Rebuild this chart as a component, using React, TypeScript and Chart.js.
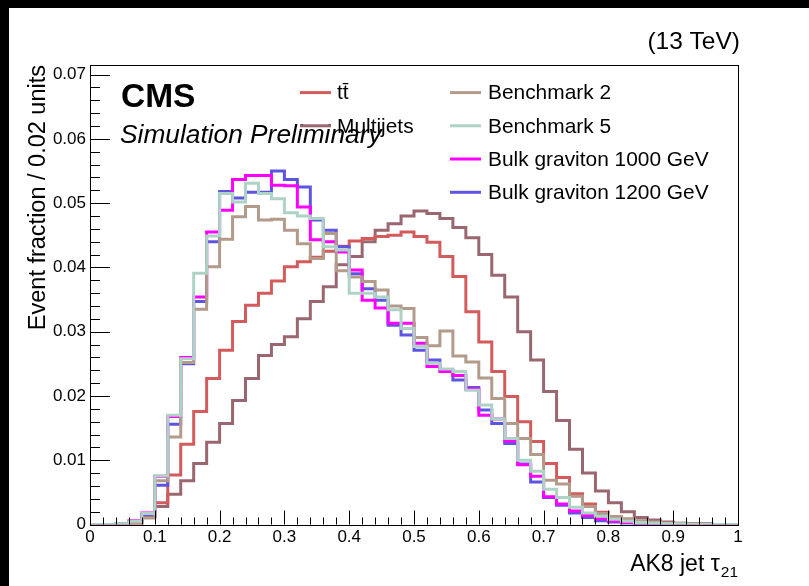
import React, { useEffect, useRef } from "react";
import { Chart, registerables } from "chart.js";

Chart.register(...registerables);

// ---- data (bin contents, 50 bins of width 0.02 from 0 to 1) ----
const binLow = 0;
const binWidth = 0.02;

const ttbar = [
  0, 0, 0, 0.0002, 0.0012, 0.0034, 0.0077, 0.0125, 0.0176, 0.0227,
  0.0271, 0.0316, 0.0341, 0.036, 0.0379, 0.0401, 0.0409, 0.0416, 0.0425, 0.0433,
  0.0441, 0.0445, 0.0448, 0.045, 0.0455, 0.0448, 0.0439, 0.0417, 0.0386, 0.0331,
  0.0284, 0.0238, 0.0199, 0.016, 0.0129, 0.0095, 0.0073, 0.0048, 0.0032, 0.0019,
  0.0012, 0.0008, 0.0005, 0.0003, 0.0002, 0.0001, 0.0001, 0, 0, 0,
];
const multijets = [
  0, 0, 0, 0.0002, 0.0012, 0.0028, 0.0047, 0.0068, 0.0095, 0.0128,
  0.0157, 0.0193, 0.0227, 0.0263, 0.028, 0.0292, 0.032, 0.0347, 0.037, 0.0404,
  0.0417, 0.044, 0.0458, 0.0468, 0.048, 0.0488, 0.0484, 0.0476, 0.0462, 0.0446,
  0.042, 0.0388, 0.0354, 0.03, 0.0256, 0.0207, 0.0162, 0.0117, 0.008, 0.0052,
  0.0034, 0.002, 0.0011, 0.0007, 0.0004, 0.0002, 0.0001, 0.0001, 0, 0,
];
const benchmark2 = [
  0, 0, 0.0001, 0.0003, 0.001, 0.0068, 0.0136, 0.0252, 0.0335, 0.0401,
  0.0444, 0.0479, 0.0495, 0.0474, 0.0475, 0.0458, 0.0437, 0.0414, 0.0453, 0.0395,
  0.0385, 0.0378, 0.0365, 0.034, 0.0336, 0.0291, 0.0278, 0.0301, 0.0262, 0.0253,
  0.0228, 0.0196, 0.0157, 0.0134, 0.0109, 0.0069, 0.0063, 0.0044, 0.0028, 0.0017,
  0.0012, 0.0009, 0.0006, 0.0004, 0.0002, 0.0002, 0.0001, 0, 0, 0,
];
const benchmark5 = [
  0, 0, 0.0001, 0.0005, 0.0017, 0.0076, 0.017, 0.0258, 0.0391, 0.0449,
  0.0515, 0.0502, 0.0531, 0.0515, 0.0507, 0.0485, 0.048, 0.0476, 0.0432, 0.0427,
  0.036, 0.036, 0.0354, 0.0334, 0.0305, 0.0277, 0.0251, 0.0242, 0.0238, 0.0209,
  0.0186, 0.0164, 0.0134, 0.01, 0.0083, 0.0055, 0.0042, 0.0027, 0.0018, 0.0013,
  0.0008, 0.0005, 0.0003, 0.0002, 0.0001, 0.0001, 0, 0, 0, 0,
];
const bulk1000 = [
  0, 0, 0.0001, 0.0006, 0.0018, 0.0075, 0.0168, 0.026, 0.0354, 0.0455,
  0.0489, 0.0537, 0.0543, 0.0543, 0.0528, 0.0527, 0.0494, 0.0443, 0.044, 0.0424,
  0.0396, 0.0349, 0.0337, 0.0313, 0.0313, 0.0282, 0.0246, 0.0238, 0.0232, 0.0211,
  0.017, 0.0164, 0.013, 0.0093, 0.0075, 0.0043, 0.0032, 0.0021, 0.0014, 0.0009,
  0.0005, 0.0003, 0.0002, 0.0001, 0, 0, 0, 0, 0, 0,
];
const bulk1200 = [
  0, 0, 0.0001, 0.0004, 0.0015, 0.0061, 0.0156, 0.025, 0.0347, 0.044,
  0.0518, 0.0508, 0.0517, 0.0517, 0.055, 0.0537, 0.0525, 0.0474, 0.0458, 0.0432,
  0.039, 0.0367, 0.0349, 0.031, 0.0295, 0.0271, 0.0256, 0.024, 0.0225, 0.0213,
  0.0178, 0.0157, 0.0126, 0.0094, 0.0066, 0.0042, 0.003, 0.0018, 0.0011, 0.0006,
  0.0004, 0.0002, 0.0001, 0, 0, 0, 0, 0, 0, 0,
];

const xTickValues = [0, 0.1, 0.2, 0.3, 0.4, 0.5, 0.6, 0.7, 0.8, 0.9, 1];
const yTickValues = [0, 0.01, 0.02, 0.03, 0.04, 0.05, 0.06, 0.07];
const xRange = [0, 1];
const yRange = [0, 0.0715];

const seriesNames = [
  "t\u0074\u0304",
  "Multijets",
  "Benchmark 2",
  "Benchmark 5",
  "Bulk graviton 1000 GeV",
  "Bulk graviton 1200 GeV",
];
const seriesValues = [ttbar, multijets, benchmark2, benchmark5, bulk1000, bulk1200];
const seriesColors = ["#d45b5b", "#9a6670", "#b29b8b", "#aed2c6", "#ff00ff", "#5d55e2"];
const seriesOrder = [4, 5, 1, 0, 2, 3];

const FONT = "'Liberation Sans', Arial, Helvetica, sans-serif";

function toSteps(values: number[]) {
  const pts = values.map((v, i) => ({ x: binLow + i * binWidth, y: v }));
  pts.push({ x: binLow + values.length * binWidth, y: values[values.length - 1] });
  return pts;
}

const decorPlugin = {
  id: "rootDecor",
  afterDatasetsDraw(chart: any) {
    const { ctx, chartArea: a, scales } = chart;
    const xs = scales.x;
    const ys = scales.y;
    ctx.save();
    ctx.strokeStyle = "#000";
    ctx.lineWidth = 1;
    ctx.strokeRect(Math.round(a.left) + 0.5, Math.round(a.top) + 0.5, Math.round(a.right - a.left), Math.round(a.bottom - a.top));
    ctx.beginPath();
    for (let k = 0; k <= 35; k++) {
      const v = k * 0.002;
      if (v > yRange[1]) break;
      const py = Math.round(ys.getPixelForValue(v)) + 0.5;
      const len = k % 5 === 0 ? 20 : 10;
      ctx.moveTo(a.left, py);
      ctx.lineTo(a.left + len, py);
    }
    for (let k = 0; k <= 50; k++) {
      const v = k * 0.02;
      const px = Math.round(xs.getPixelForValue(v)) + 0.5;
      const len = k % 5 === 0 ? 14 : 7;
      ctx.moveTo(px, a.bottom);
      ctx.lineTo(px, a.bottom - len);
    }
    ctx.stroke();
    ctx.restore();
  },
  afterDraw(chart: any) {
    const { ctx, chartArea: a } = chart;
    ctx.save();
    ctx.fillStyle = "#000";
    ctx.textBaseline = "alphabetic";

    ctx.font = `24.5px ${FONT}`;
    ctx.textAlign = "right";
    ctx.fillText("(13 TeV)", a.right + 2, 41);

    ctx.textAlign = "left";
    ctx.font = `bold 33.5px ${FONT}`;
    ctx.fillText("CMS", 112, 99);
    ctx.font = `italic 26.3px ${FONT}`;
    ctx.fillText("Simulation Preliminary", 111, 135);

    const cols = [
      { lx: 291, tx: 328, items: [0, 1] },
      { lx: 441, tx: 479, items: [2, 3, 4, 5] },
    ];
    const rowY = [84.6, 117.8, 151, 184.3];
    ctx.font = `20.9px ${FONT}`;
    ctx.textBaseline = "middle";
    cols.forEach((c) => {
      c.items.forEach((si, r) => {
        const y = rowY[r];
        ctx.strokeStyle = seriesColors[si];
        ctx.lineWidth = 3;
        ctx.beginPath();
        ctx.moveTo(c.lx, y);
        ctx.lineTo(c.lx + 31, y);
        ctx.stroke();
        ctx.fillStyle = "#000";
        ctx.fillText(seriesNames[si], c.tx, y + 1);
      });
    });

    ctx.textBaseline = "alphabetic";
    ctx.save();
    ctx.translate(36, a.top);
    ctx.rotate(-Math.PI / 2);
    ctx.textAlign = "right";
    ctx.font = `23.5px ${FONT}`;
    ctx.fillText("Event fraction / 0.02 units", 0, 0);
    ctx.restore();

    ctx.font = `23px ${FONT}`;
    const main = "AK8 jet \u03C4";
    const wMain = ctx.measureText(main).width;
    ctx.font = `15.5px ${FONT}`;
    const sub = "21";
    const wSub = ctx.measureText(sub).width;
    const xEnd = a.right;
    const base = 563;
    ctx.textAlign = "left";
    ctx.font = `23px ${FONT}`;
    ctx.fillText(main, xEnd - wSub - wMain - 1, base);
    ctx.font = `15.5px ${FONT}`;
    ctx.fillText(sub, xEnd - wSub, base + 6);
    ctx.restore();
  },
};

export default function App() {
  const canvasRef = useRef<HTMLCanvasElement | null>(null);

  useEffect(() => {
    const canvas = canvasRef.current;
    if (!canvas) return;
    const W = 800;
    const H = 578;
    const chart = new Chart(canvas, {
      type: "line",
      data: {
        datasets: seriesValues.map((vals, i) => ({
          label: seriesNames[i],
          data: toSteps(vals),
          borderColor: seriesColors[i],
          backgroundColor: seriesColors[i],
          borderWidth: 3,
          pointRadius: 0,
          pointHoverRadius: 0,
          stepped: "before" as const,
          fill: false,
          tension: 0,
          order: seriesOrder[i],
          borderJoinStyle: "miter" as const,
          borderCapStyle: "butt" as const,
        })),
      },
      options: {
        animation: false,
        responsive: false,
        devicePixelRatio: 1,
        events: [],
        layout: { padding: { left: 0, right: W - 729, top: 57, bottom: 0 } },
        plugins: {
          legend: { display: false },
          tooltip: { enabled: false },
          title: { display: false },
        },
        scales: {
          x: {
            type: "linear",
            min: xRange[0],
            max: xRange[1],
            grid: { display: false, drawTicks: false },
            border: { display: false },
            afterBuildTicks: (s: any) => {
              s.ticks = xTickValues.map((v) => ({ value: v }));
            },
            afterFit: (s: any) => {
              s.height = H - 516.5;
            },
            ticks: {
              padding: 3,
              maxRotation: 0,
              autoSkip: false,
              color: "#000",
              font: { family: FONT, size: 17 },
              callback: (v: any) => {
                const n = Number(v);
                if (n === 0) return "0";
                if (Math.abs(n - 1) < 1e-9) return "1";
                return n.toFixed(1);
              },
            },
          },
          y: {
            type: "linear",
            min: yRange[0],
            max: yRange[1],
            grid: { display: false, drawTicks: false },
            border: { display: false },
            afterBuildTicks: (s: any) => {
              s.ticks = yTickValues.map((v) => ({ value: v }));
            },
            afterFit: (s: any) => {
              s.width = 81;
            },
            ticks: {
              padding: 4,
              autoSkip: false,
              color: "#000",
              font: { family: FONT, size: 17 },
              callback: (v: any) => {
                const n = Number(v);
                if (n === 0) return "0";
                return n.toFixed(2);
              },
            },
          },
        },
      },
      plugins: [decorPlugin],
    });
    return () => chart.destroy();
  }, []);

  return (
    <div style={{ position: "fixed", left: 0, top: 0, width: "100vw", height: "100vh", background: "#000" }}>
      <div style={{ position: "absolute", left: 9, top: 8, width: 800, height: 578, background: "#fff" }}>
        <canvas ref={canvasRef} width={800} height={578} style={{ display: "block", width: 800, height: 578 }} />
      </div>
    </div>
  );
}
